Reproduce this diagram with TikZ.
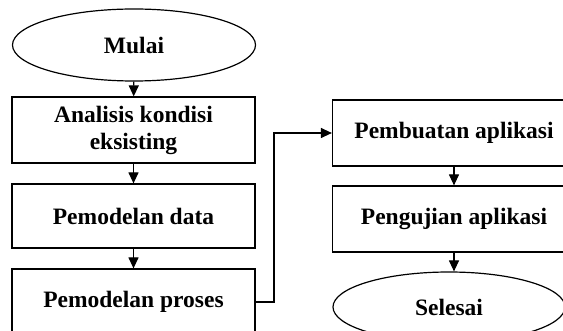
\documentclass[tikz,border=0pt]{standalone}
\usepackage{fontspec}
\setmainfont{Liberation Serif}
\usetikzlibrary{shapes.geometric,arrows.meta}
\begin{document}
\begin{tikzpicture}[x=1pt,y=1pt,
  every node/.style={font=\bfseries\fontsize{23.5}{27}\selectfont},
  boxstyle/.style={draw,line width=1.2pt,rectangle,minimum width=243pt,minimum height=66pt,inner sep=0pt,align=center},
  ellstyle/.style={draw,line width=1.2pt,ellipse,minimum width=243pt,minimum height=72pt,inner sep=0pt},
  arr/.style={line width=1.2pt,-{Triangle[length=11pt,width=10pt]}}]
\useasboundingbox (0,0) rectangle (563,-331);
\node[ellstyle] (mulai) at (134,-45) {Mulai};
\node[boxstyle] (analisis) at (133.5,-130) {Analisis kondisi\\eksisting};
\node[boxstyle,minimum height=64pt] (data) at (133.5,-216) {Pemodelan data};
\node[boxstyle] (proses) at (133.5,-302) {Pemodelan proses};
\node[boxstyle] (buat) at (454,-133) {Pembuatan aplikasi};
\node[boxstyle] (uji) at (454,-219) {Pengujian aplikasi};
\node[ellstyle,minimum width=232pt,minimum height=70pt] (selesai) at (449,-307) {Selesai};
\draw[arr] (mulai) -- (analisis);
\draw[arr] (analisis) -- (data);
\draw[arr] (data) -- (proses);
\coordinate (bend) at (274,-302);
\draw[arr] (proses.east) -- (bend) |- (buat.west);
\draw[arr] (buat) -- (uji);
\draw[arr] (uji.south) -- (uji.south |- selesai.north);
\end{tikzpicture}
\end{document}
